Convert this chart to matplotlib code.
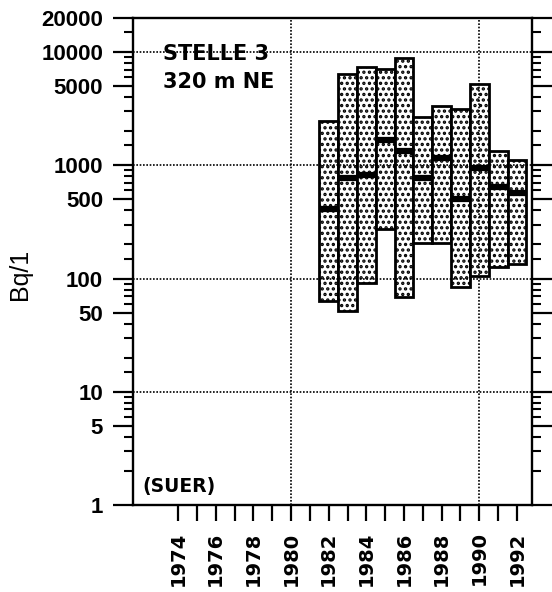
import matplotlib
matplotlib.use("Agg")
import matplotlib.pyplot as plt
from matplotlib.ticker import NullFormatter

# jährliche Tritium-Werte, Stelle 3 (Bq/l): Minimum, Median, Maximum
jahre = [1982, 1983, 1984, 1985, 1986, 1987, 1988, 1989, 1990, 1991, 1992]
maxima = [2460, 6420, 7360, 7110, 8850, 2690, 3370, 3120, 5200, 1350, 1110]
mediane = [410, 775, 815, 1670, 1330, 775, 1150, 505, 955, 645, 575]
minima = [63, 52, 92, 275, 69, 206, 206, 84, 105, 126, 134]

y_ticks = [1, 5, 10, 50, 100, 500, 1000, 5000, 10000, 20000]
y_labels = ["1", "5", "10", "50", "100", "500", "1000", "5000", "10000", "20000"]
x_ticks = list(range(1974, 1993, 2))
x_minor = list(range(1975, 1993, 2))
gitter_jahre = [1980, 1990]
gitter_werte = [10, 100, 1000, 10000]

plt.rcParams["font.family"] = ["DejaVu Sans"]
plt.rcParams["hatch.linewidth"] = 1.6

fig = plt.figure(figsize=(5.52, 5.92), dpi=100)
ax = fig.add_axes([133 / 552, 87 / 592, 399 / 552, 487 / 592])

hoehen = [hi - lo for hi, lo in zip(maxima, minima)]
ax.bar(jahre, hoehen, bottom=minima, width=1.0, facecolor="white",
       edgecolor="black", linewidth=2.0, hatch="...", zorder=2)
ax.hlines(mediane, [j - 0.5 for j in jahre], [j + 0.5 for j in jahre],
          colors="black", linewidth=4.5, zorder=4)

# punktierte Gitterlinien
for w in gitter_werte:
    ax.axhline(w, color="black", linewidth=1.2, linestyle=(0, (1, 1.0)), zorder=3)
for j in gitter_jahre:
    ax.axvline(j, color="black", linewidth=1.2, linestyle=(0, (1, 1.0)), zorder=3)

ax.set_yscale("log")
ax.set_ylim(1, 20000)
ax.set_xlim(1971.6, 1992.8)

minor_y = [m * 10 ** k for k in range(5) for m in (1.5, 2, 3, 4, 6, 7, 8, 9)]
minor_y = [v for v in minor_y if 1.5 < v < 20000]
ax.set_yticks(y_ticks, y_labels)
ax.set_yticks(minor_y, minor=True)
ax.yaxis.set_minor_formatter(NullFormatter())
ax.tick_params(axis="y", which="major", direction="out", length=14.5, width=1.6,
               left=True, right=True, pad=7)
ax.tick_params(axis="y", which="minor", direction="out", length=6.5, width=1.5,
               left=True, right=True)
for lab in ax.get_yticklabels():
    lab.set_fontfamily("Liberation Sans")
    lab.set_fontweight("bold")
    lab.set_fontsize(16)

ax.set_xticks(x_ticks, [str(j) for j in x_ticks], rotation=90)
ax.set_xticks(x_minor, minor=True)
ax.tick_params(axis="x", which="both", direction="out", length=11.5, width=1.6,
               top=False, pad=7.5)
for lab in ax.get_xticklabels():
    lab.set_fontweight("bold")
    lab.set_fontsize(14)

for s in ax.spines.values():
    s.set_linewidth(1.7)

ax.text(0.075, 0.9138, "STELLE 3", transform=ax.transAxes, fontsize=15,
        fontweight="bold", ha="left", va="baseline")
ax.text(0.075, 0.8563, "320 m NE", transform=ax.transAxes, fontsize=15,
        fontweight="bold", ha="left", va="baseline")
ax.text(0.0226, 0.027, "(SUER)", transform=ax.transAxes, fontsize=13.5,
        fontweight="bold", ha="left", va="baseline")

fig.text(20 / 552, 1 - 274 / 592, "Bq/1", rotation=90, fontsize=18,
         family="Liberation Sans", ha="center", va="center")

fig.savefig("out.png", dpi=100)
